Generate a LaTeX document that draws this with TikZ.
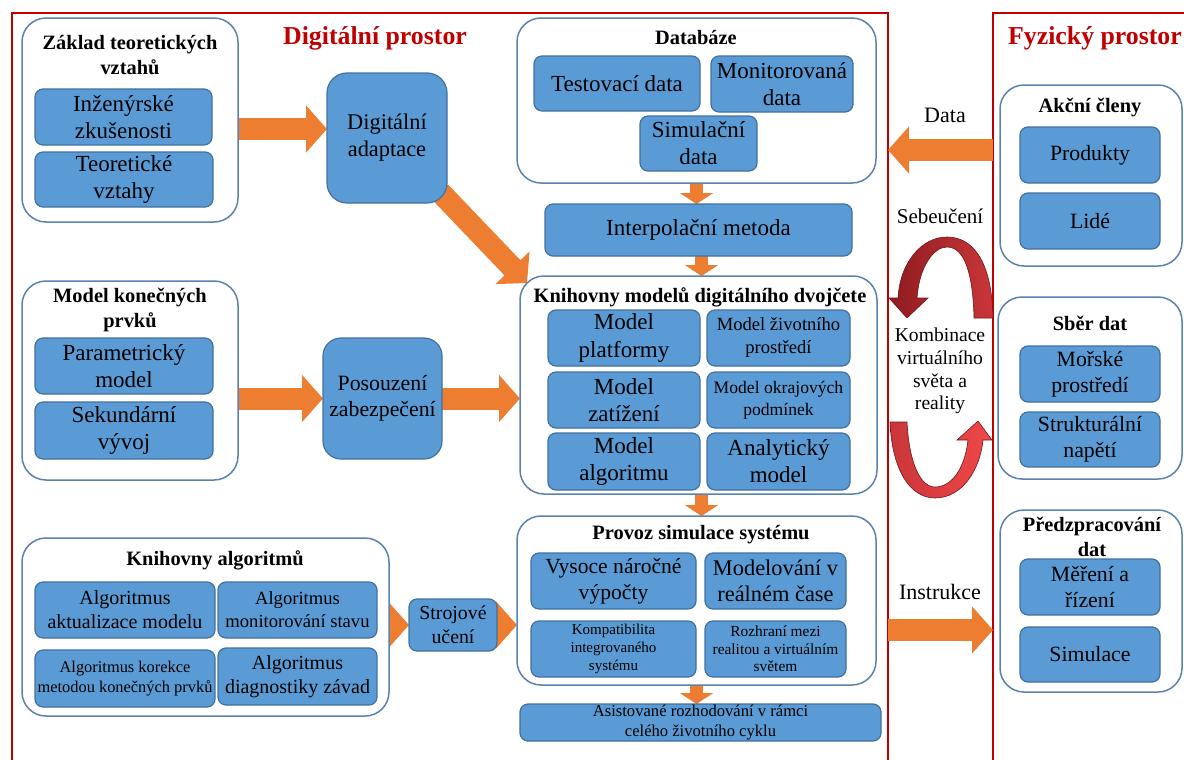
\documentclass[tikz,border=0pt]{standalone}
\usepackage{fontspec}
\setmainfont{Liberation Serif}
\usetikzlibrary{arrows.meta}
\definecolor{boxblue}{HTML}{5B9BD5}
\definecolor{boxedge}{HTML}{41719C}
\definecolor{outeredge}{HTML}{5A82AE}
\definecolor{arrorange}{HTML}{ED7D31}
\definecolor{framered}{HTML}{C00000}
\definecolor{ribdark}{HTML}{8E1B1F}
\definecolor{ribmid}{HTML}{C9363A}
\definecolor{ribbright}{HTML}{F04848}
\pgfdeclarelayer{frame}
\pgfdeclarelayer{bg}
\pgfsetlayers{frame,bg,main}
\newcommand\bx[7][]{\node[#1,minimum width={(#5-#3)*0.5pt},minimum height={(#6-#4)*0.5pt}] (#2) at ({(#3+#5)/2},{(#4+#6)/2}) {#7};}
\tikzset{
  every node/.style={inner sep=0pt, outer sep=0pt, align=center},
  fs/.style 2 args={font=\fontsize{#1}{#2}\selectfont},
  bb/.style={fill=boxblue, draw=boxedge, line width=0.6pt, rounded corners=4pt},
  ob/.style={fill=white, draw=outeredge, line width=0.75pt, rounded corners=12pt},
  ttl/.style={font=\fontsize{10.2}{12.5}\selectfont\bfseries},
  redttl/.style={text=framered, font=\fontsize{12.9}{15}\selectfont\bfseries},
  frameline/.style={draw=framered, line width=1.1pt},
  bigarrow/.style={draw=arrorange, line width=11pt, -{Triangle[width=23pt,length=10.5pt]}},
  smallarrow/.style={draw=arrorange, line width=6.5pt, -{Triangle[width=16.5pt,length=5.5pt]}},
  ribbon/.style={draw=ribdark!80!black, line width=0.3pt}
}
\begin{document}
\begin{tikzpicture}[x=0.5pt, y=-0.5pt, fs={11.5}{13.5}]
\useasboundingbox (0,0) rectangle (1184,760);

% frames
\begin{pgfonlayer}{frame}
\draw[frameline] (12,760) -- (12,13) -- (888,13) -- (888,760);
\draw[frameline] (993,760) -- (993,13) -- (1190,13);
\end{pgfonlayer}
\node[redttl] (digT) at (375,38) {Digitální prostor};
\node[redttl] (fyzT) at (1095,38) {Fyzický prostor};

% left column
\bx[ob]{zaklad}{22}{18}{238}{222}{}
\node[ttl] (zakladT) at (130,55) {Základ teoretických\\vztahů};
\bx[bb]{inz}{35}{89}{212}{145}{Inženýrské\\zkušenosti}
\bx[bb]{teo}{35}{152}{213}{207}{Teoretické\\vztahy}
\bx[bb,rounded corners=10pt,fs={11.2}{13.5}]{adapt}{327}{73}{447}{203}{Digitální\\adaptace}

\bx[ob]{model}{22}{281}{238}{480}{}
\node[ttl] (modelT) at (130,310) {Model konečných\\prvků};
\bx[bb]{param}{35}{338}{213}{394}{Parametrický\\model}
\bx[bb]{sek}{35}{402}{213}{459}{Sekundární\\vývoj}
\bx[bb,rounded corners=9pt,fs={10.9}{13.2}]{posouz}{323}{338}{442}{459}{Posouzení\\zabezpečení}

\bx[ob]{algo}{22}{538}{389}{716}{}
\node[ttl] (algoT) at (215,560) {Knihovny algoritmů};
\bx[bb,fs={10}{12}]{a1}{35}{582}{215}{638}{Algoritmus\\aktualizace modelu}
\bx[bb,fs={9.3}{11.5}]{a2}{218}{582}{377}{638}{Algoritmus\\monitorování stavu}
\bx[bb,fs={8.2}{9.8}]{a3}{35}{650}{215}{707}{Algoritmus korekce\\metodou konečných prvků}
\bx[bb,fs={10}{12}]{a4}{218}{648}{377}{705}{Algoritmus\\diagnostiky závad}
\bx[bb,fs={9.9}{12}]{stroj}{409}{599}{497}{651}{Strojové\\učení}

% middle column
\bx[ob]{db}{517}{18}{876}{183}{}
\node[ttl] (dbT) at (696,38) {Databáze};
\bx[bb]{test}{534}{56}{700}{111}{Testovací data}
\bx[bb]{mon}{711}{56}{853}{112}{Monitorovaná\\data}
\bx[bb]{sim}{640}{116}{757}{171}{Simulační\\data}
\bx[bb]{interp}{545}{204}{852}{256}{Interpolační metoda}

\bx[ob]{knih}{520}{276}{877}{494}{}
\node[ttl] (knihT) at (700,297) {Knihovny modelů digitálního dvojčete};
\bx[bb]{mp}{548}{310}{700}{366}{Model\\platformy}
\bx[bb,fs={9.3}{11.5}]{mz}{707}{310}{850}{366}{Model životního\\prostředí}
\bx[bb]{mzat}{548}{372}{700}{428}{Model\\zatížení}
\bx[bb,fs={8.8}{11}]{mok}{707}{372}{850}{428}{Model okrajových\\podmínek}
\bx[bb]{mal}{548}{433}{700}{490}{Model\\algoritmu}
\bx[bb]{man}{707}{433}{850}{490}{Analytický\\model}

\bx[ob]{provoz}{517}{516}{876}{685}{}
\node[ttl] (provozT) at (701,535) {Provoz simulace systému};
\bx[bb,fs={10.8}{13}]{vys}{531}{553}{696}{609}{Vysoce náročné\\výpočty}
\bx[bb,fs={11.2}{13}]{modr}{705}{553}{846}{609}{Modelování v\\reálném čase}
\bx[bb,fs={7.5}{8.8}]{komp}{531}{621}{696}{677}{Kompatibilita\\integrovaného\\systému}
\bx[bb,fs={7.7}{8.8}]{rozh}{705}{621}{846}{677}{Rozhraní mezi\\realitou a virtuálním\\světem}
\bx[bb,fs={8.3}{9.8}]{asist}{520}{704}{881}{741}{Asistované rozhodování v rámci\\celého životního cyklu}

% right column
\bx[ob]{akc}{1000}{85}{1182}{266}{}
\node[ttl] (akcT) at (1090,108) {Akční členy};
\bx[bb,fs={10.9}{13}]{prod}{1020}{127}{1160}{183}{Produkty}
\bx[bb,fs={10.9}{13}]{lide}{1020}{193}{1160}{249}{Lidé}
\bx[ob]{sber}{998}{297}{1182}{479}{}
\node[ttl] (sberT) at (1090,323) {Sběr dat};
\bx[bb,fs={10.9}{13}]{mor}{1020}{346}{1160}{402}{Mořské\\prostředí}
\bx[bb,fs={10.9}{13}]{str}{1020}{412}{1160}{467}{Strukturální\\napětí}
\bx[ob]{pred}{1000}{510}{1182}{692}{}
\node[ttl] (predT) at (1092,537) {Předzpracování\\dat};
\bx[bb,fs={10.9}{13}]{mer}{1020}{559}{1160}{615}{Měření a\\řízení}
\bx[bb,fs={10.9}{13}]{simu}{1020}{627}{1160}{682}{Simulace}

% labels between spaces
\node[fs={11}{13}] (dataL) at (945,115) {Data};
\node[fs={10.5}{12.5}] (sebL) at (940,216) {Sebeučení};
\node[fs={9.8}{11.4}] (kombL) at (940,371) {Kombinace\\virtuálního\\světa a\\reality};
\node[fs={11}{13}] (instrL) at (940,592) {Instrukce};
\coordinate (dataS) at (993,150);
\coordinate (dataE) at (888,150);
\coordinate (instS) at (888,630);
\coordinate (instE) at (993,630);

% arrows
\begin{pgfonlayer}{bg}
\coordinate (z1) at ([yshift=-4.5pt]zaklad.east);
\draw[bigarrow] (z1) -- (z1 -| adapt.west);
\draw[bigarrow] ([shift={(-7,-11)}]adapt.south east) -- ([shift={(7,7)}]knih.north west);
\draw[bigarrow] (model.east |- posouz.west) -- (posouz.west);
\draw[bigarrow] (posouz.east) -- (posouz.east -| knih.west);
\draw[bigarrow] (algo.east |- stroj.west) -- (stroj.west);
\draw[bigarrow] (stroj.east) -- (stroj.east -| provoz.west);
\draw[smallarrow] (db.south) -- (db.south |- interp.north);
\draw[smallarrow] ([xshift=1.5pt]interp.south) -- ([xshift=1.5pt]interp.south |- knih.north);
\draw[smallarrow] ([xshift=1.5pt]knih.south) -- ([xshift=1.5pt]knih.south |- provoz.north);
\draw[smallarrow] (provoz.south) -- (provoz.south |- asist.north);
\draw[bigarrow] (dataS) -- (dataE);
\draw[bigarrow] (instS) -- (instE);
\end{pgfonlayer}

% curved ribbons
\shade[ribbon, left color=ribdark, right color=ribmid]
  (993,318) .. controls (992,265) and (975,237) .. (947,237)
  .. controls (922,237) and (900,262) .. (898,298)
  -- (889,298) -- (907,318) -- (928,298) -- (917,298)
  .. controls (919,268) and (933,247) .. (947,247)
  .. controls (965,247) and (973,275) .. (974,318) -- cycle;
\shade[ribbon, left color=ribmid, right color=ribbright]
  (890,422) .. controls (892,470) and (910,498) .. (935,498)
  .. controls (962,498) and (980,470) .. (983,440)
  -- (992,440) -- (978,421) -- (957,440) -- (968,440)
  .. controls (965,468) and (952,487) .. (935,487)
  .. controls (920,487) and (909,462) .. (907,422) -- cycle;
\end{tikzpicture}
\end{document}
